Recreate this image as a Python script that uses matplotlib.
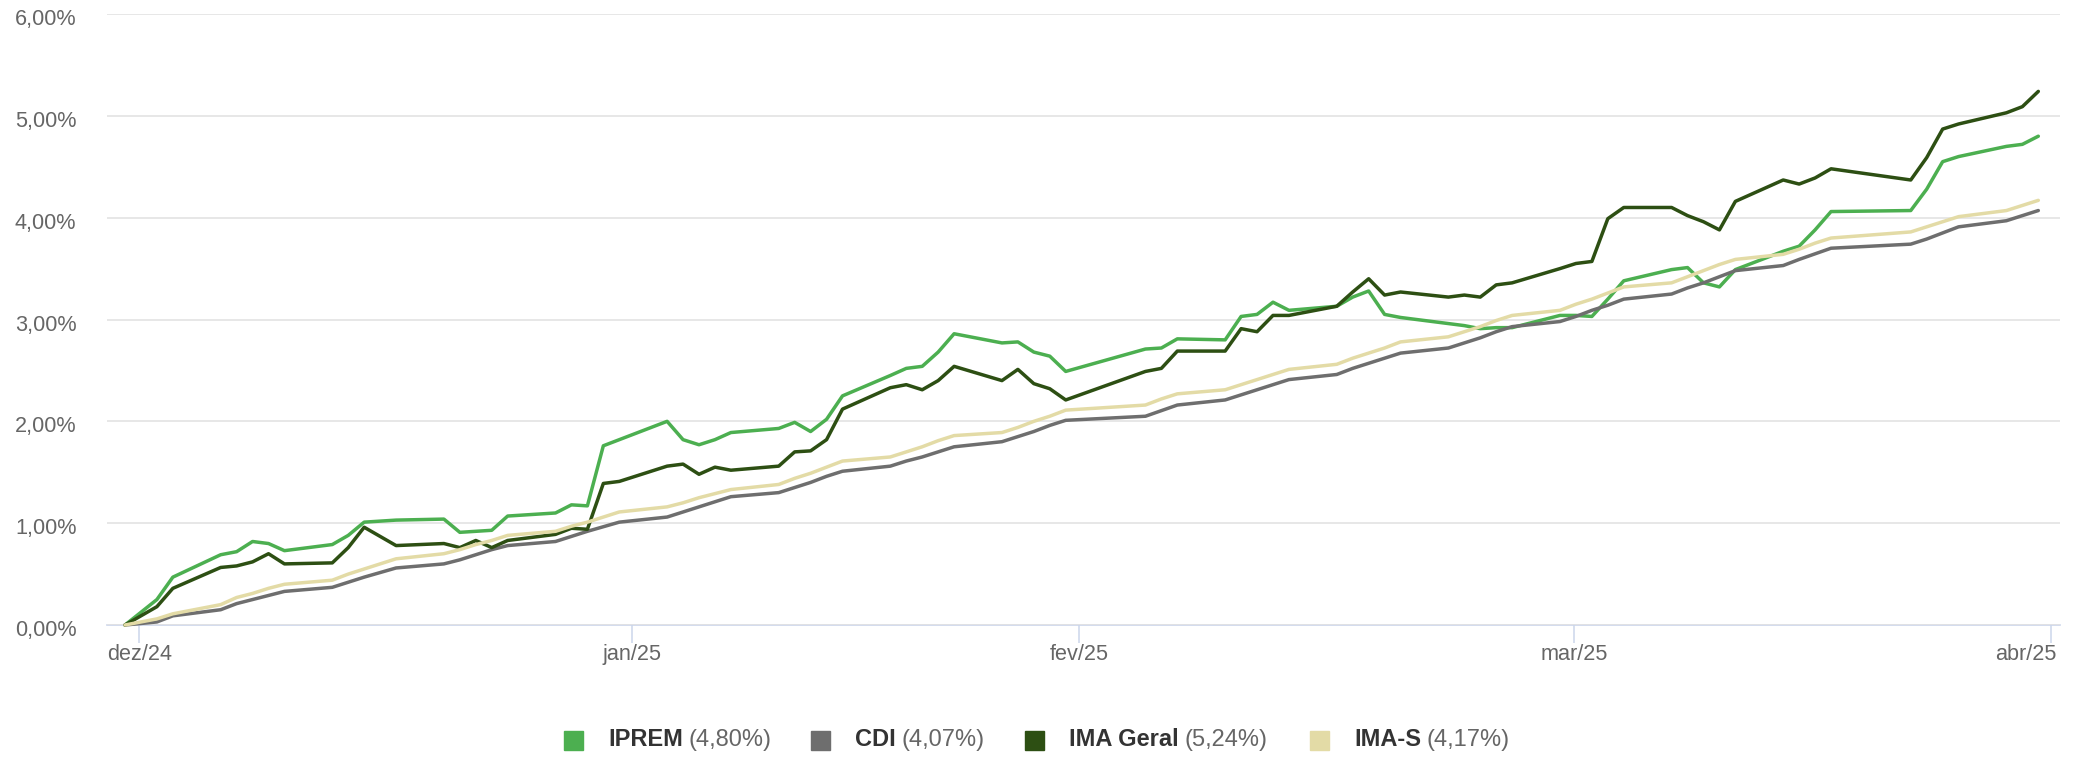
import matplotlib
matplotlib.use("Agg")
import matplotlib.pyplot as plt
from matplotlib.patches import Rectangle
from matplotlib.transforms import ScaledTranslation

plt.rcParams['font.family'] = ['Liberation Sans', 'DejaVu Sans']

# dias contados a partir do primeiro ponto da série
dias = [0, 2, 3, 6, 7, 8, 9, 10, 13, 14,
        15, 17, 20, 21, 22, 23, 24, 27, 28, 29,
        30, 31, 34, 35, 36, 37, 38, 41, 42, 43,
        44, 45, 48, 49, 50, 51, 52, 55, 56, 57,
        58, 59, 64, 65, 66, 69, 70, 71, 72, 73,
        76, 77, 78, 79, 80, 83, 84, 85, 86, 87,
        90, 91, 92, 93, 94, 97, 98, 99, 100, 101,
        104, 105, 106, 107, 112, 113, 114, 115, 118, 119,
        120]

iprem = [0.00, 0.25, 0.47, 0.69, 0.72, 0.82, 0.80, 0.73, 0.79, 0.88,
         1.01, 1.03, 1.04, 0.91, 0.92, 0.93, 1.07, 1.10, 1.18, 1.17,
         1.76, 1.82, 2.00, 1.82, 1.77, 1.82, 1.89, 1.93, 1.99, 1.90,
         2.02, 2.25, 2.45, 2.52, 2.54, 2.68, 2.86, 2.77, 2.78, 2.68,
         2.64, 2.49, 2.71, 2.72, 2.81, 2.80, 3.03, 3.05, 3.17, 3.09,
         3.13, 3.22, 3.28, 3.05, 3.02, 2.96, 2.94, 2.91, 2.92, 2.92,
         3.04, 3.04, 3.03, 3.20, 3.38, 3.49, 3.51, 3.36, 3.32, 3.49,
         3.67, 3.72, 3.88, 4.06, 4.07, 4.28, 4.55, 4.60, 4.70, 4.72,
         4.80]

cdi = [0.00, 0.03, 0.09, 0.15, 0.21, 0.25, 0.29, 0.33, 0.37, 0.42,
       0.47, 0.56, 0.60, 0.64, 0.69, 0.74, 0.78, 0.82, 0.87, 0.92,
       0.965, 1.01, 1.06, 1.11, 1.16, 1.21, 1.26, 1.30, 1.35, 1.40,
       1.46, 1.51, 1.56, 1.61, 1.65, 1.70, 1.75, 1.80, 1.85, 1.90,
       1.96, 2.01, 2.05, 2.105, 2.16, 2.21, 2.26, 2.31, 2.36, 2.41,
       2.46, 2.52, 2.57, 2.62, 2.67, 2.72, 2.77, 2.82, 2.88, 2.93,
       2.98, 3.03, 3.09, 3.14, 3.20, 3.25, 3.31, 3.36, 3.42, 3.48,
       3.53, 3.59, 3.645, 3.70, 3.74, 3.79, 3.85, 3.91, 3.97, 4.02,
       4.07]

ima_geral = [0.00, 0.18, 0.36, 0.565, 0.58, 0.62, 0.70, 0.60, 0.61, 0.76,
             0.96, 0.78, 0.80, 0.76, 0.83, 0.76, 0.83, 0.89, 0.95, 0.94,
             1.39, 1.41, 1.56, 1.58, 1.48, 1.55, 1.52, 1.56, 1.70, 1.71,
             1.82, 2.12, 2.33, 2.36, 2.31, 2.40, 2.54, 2.40, 2.51, 2.37,
             2.32, 2.21, 2.49, 2.52, 2.69, 2.69, 2.91, 2.88, 3.04, 3.04,
             3.13, 3.27, 3.40, 3.24, 3.27, 3.22, 3.24, 3.22, 3.34, 3.36,
             3.50, 3.55, 3.57, 3.99, 4.10, 4.10, 4.02, 3.96, 3.88, 4.16,
             4.37, 4.33, 4.39, 4.48, 4.37, 4.59, 4.87, 4.92, 5.03, 5.09,
             5.24]

ima_s = [0.00, 0.06, 0.11, 0.20, 0.27, 0.31, 0.36, 0.40, 0.44, 0.50,
         0.55, 0.65, 0.70, 0.74, 0.79, 0.83, 0.88, 0.92, 0.97, 1.01,
         1.06, 1.11, 1.16, 1.20, 1.25, 1.29, 1.33, 1.38, 1.44, 1.49,
         1.55, 1.61, 1.65, 1.70, 1.75, 1.81, 1.86, 1.89, 1.94, 2.00,
         2.05, 2.11, 2.16, 2.22, 2.27, 2.31, 2.36, 2.41, 2.46, 2.51,
         2.56, 2.62, 2.67, 2.72, 2.78, 2.83, 2.88, 2.93, 2.99, 3.04,
         3.09, 3.15, 3.20, 3.26, 3.32, 3.36, 3.42, 3.48, 3.54, 3.59,
         3.64, 3.69, 3.75, 3.80, 3.86, 3.91, 3.96, 4.01, 4.07, 4.12,
         4.17]

series_names = ['IPREM', 'CDI', 'IMA Geral', 'IMA-S']
series_colors = ['#4caf50', '#6e6e6e', '#2d4f13', '#e3dba6']

tick_pos = [0.9, 31.8, 59.85, 90.9, 120.77]
tick_labels = ['dez/24', 'jan/25', 'fev/25', 'mar/25', 'abr/25']
y_ticks = [0, 1, 2, 3, 4, 5, 6]

W, H = 2085, 758
fig = plt.figure(figsize=(W / 100, H / 100), dpi=100)
ax = fig.add_axes([107 / W, 1 - 625 / H, (2060 - 107) / W, (625 - 14) / H])

for vals, name, col in zip([iprem, cdi, ima_geral, ima_s], series_names, series_colors):
    ax.plot(dias, vals, color=col, lw=2.5, solid_joinstyle='round',
            solid_capstyle='round', label=name, clip_on=False)

ax.set_xlim(-1.13, 121.36)
ax.set_ylim(0, 6)
ax.set_yticks(y_ticks)
ax.set_yticklabels([f"{v:.2f}".replace('.', ',') + '%' for v in y_ticks])
ax.set_xticks(tick_pos)
ax.set_xticklabels(tick_labels)

ax.grid(axis='y', color='#e3e3e3', lw=1.2)
ax.set_axisbelow(True)
for s in ['top', 'right', 'left']:
    ax.spines[s].set_visible(False)
ax.spines['bottom'].set_color('#ccd6eb')
ax.spines['bottom'].set_linewidth(1.2)
ax.spines['bottom'].set_zorder(0.5)

ax.tick_params(axis='y', length=0, pad=22, labelsize=15.6, labelcolor='#666666')
ax.tick_params(axis='x', length=13, width=1.1, color='#ccd6eb', pad=1,
               labelsize=15.6, labelcolor='#666666')
for lab in ax.get_yticklabels():
    lab.set_transform(lab.get_transform() + ScaledTranslation(0, -0.03, fig.dpi_scale_trans))
# o último rótulo fica recuado para caber na área
last = ax.get_xticklabels()[-1]
last.set_transform(last.get_transform() + ScaledTranslation(-0.25, 0, fig.dpi_scale_trans))

# legenda
finais = [iprem[-1], cdi[-1], ima_geral[-1], ima_s[-1]]
sq_left = [564, 811, 1025, 1310]
y_leg = 1 - 740 / H
renderer = fig.canvas.get_renderer()
for name, col, fim, x0 in zip(series_names, series_colors, finais, sq_left):
    fig.patches.append(Rectangle((x0 / W, y_leg - 9.5 / H), 19 / W, 19 / H,
                                 transform=fig.transFigure, color=col, figure=fig))
    t = fig.text((x0 + 44) / W, y_leg, name, fontsize=17, fontweight='bold',
                 color='#333333', va='center', ha='left')
    bb = t.get_window_extent(renderer)
    fig.text((bb.x1 + 6) / W, y_leg, '(' + f"{fim:.2f}".replace('.', ',') + '%)',
             fontsize=17, color='#666666', va='center', ha='left')

fig.savefig('out.png', dpi=100)
